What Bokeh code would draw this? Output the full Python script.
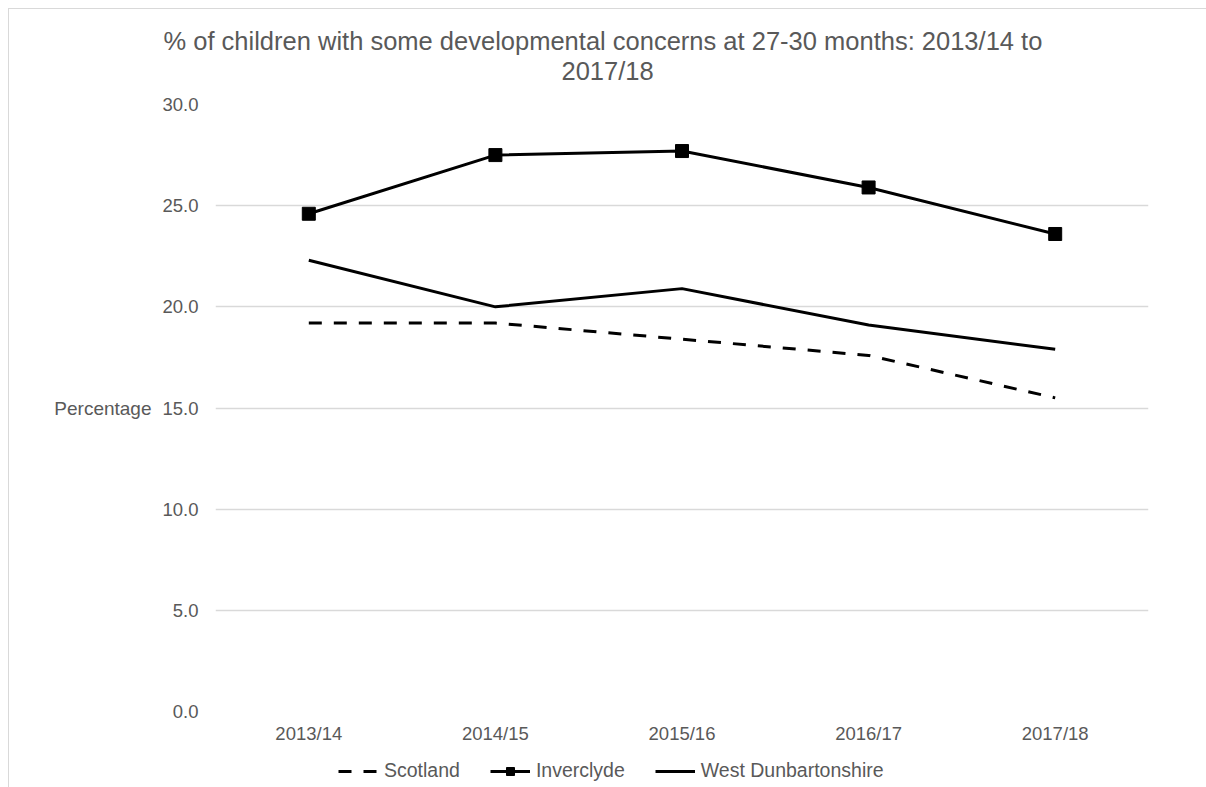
from bokeh.plotting import figure
from bokeh.layouts import column
from bokeh.models import (FactorRange, Range1d, Legend, LegendItem, Title,
                          NumeralTickFormatter, FixedTicker)
from bokeh.embed import file_html
from bokeh.resources import INLINE

# ---- data ----
years = ["2013/14", "2014/15", "2015/16", "2016/17", "2017/18"]
scotland = [19.2, 19.2, 18.4, 17.6, 15.5]
inverclyde = [24.6, 27.5, 27.7, 25.9, 23.6]
west_dunbartonshire = [22.3, 20.0, 20.9, 19.1, 17.9]
y_ticks = [0, 5, 10, 15, 20, 25, 30]
series_names = ["Scotland", "Inverclyde", "West Dunbartonshire"]
title_line1 = "%  of children with some developmental  concerns at 27-30 months: 2013/14 to"
title_line2 = "2017/18"
y_label = "Percentage"

FONT = "Liberation Sans"
GREY = "#595959"
DASH = "13 12"


def draw_series(fig, marker_size):
    a = fig.line(years, scotland, line_color="black", line_width=3, line_dash=DASH)
    b = fig.line(years, inverclyde, line_color="black", line_width=3)
    c = fig.scatter(years, inverclyde, marker="square", size=marker_size, color="black")
    d = fig.line(years, west_dunbartonshire, line_color="black", line_width=3)
    return a, b, c, d


p = figure(x_range=FactorRange(factors=years), y_range=Range1d(0, 30),
           width=1198, height=745, output_backend="svg", toolbar_location=None,
           title=None, min_border_left=206, min_border_right=59,
           min_border_top=95, min_border_bottom=43)
p.outline_line_color = None

# axes
p.yaxis.ticker = FixedTicker(ticks=y_ticks)
p.yaxis.formatter = NumeralTickFormatter(format="0.0")
p.yaxis.axis_label = y_label
p.yaxis.axis_label_orientation = "horizontal"
p.yaxis.axis_label_standoff = 8
p.yaxis.axis_label_text_font_style = "normal"
p.yaxis.axis_label_text_font_size = "19px"
p.yaxis.axis_label_text_font = FONT
p.yaxis.axis_label_text_color = GREY
p.yaxis.major_label_standoff = 11
for ax in (p.xaxis, p.yaxis):
    ax.axis_line_color = None
    ax.major_tick_line_color = None
    ax.minor_tick_line_color = None
    ax.major_label_text_color = GREY
    ax.major_label_text_font = FONT
    ax.major_label_text_font_size = "18.5px"
p.xaxis.major_label_standoff = 5

p.xgrid.grid_line_color = None
p.ygrid.grid_line_color = "#d9d9d9"
p.ygrid.grid_line_width = 1.5

# series
draw_series(p, 13)

# title (two centred lines) + spacer next to the frame
spacer = Title(text=" ", text_font_size="12px", standoff=4)
t2 = Title(text=title_line2, align="left", offset=346, text_font=FONT,
           text_font_size="25.5px", text_font_style="normal", text_color=GREY,
           standoff=0)
t1 = Title(text=title_line1, align="left", offset=-52, text_font=FONT,
           text_font_size="25.5px", text_font_style="normal", text_color=GREY,
           standoff=0)
p.add_layout(spacer, "above")
p.add_layout(t2, "above")
p.add_layout(t1, "above")

# legend strip below the chart (series drawn off-range, only the legend shows)
lg = figure(x_range=FactorRange(factors=years), y_range=Range1d(100, 101),
            width=1198, height=34, output_backend="svg", toolbar_location=None,
            x_axis_type=None, y_axis_type=None, min_border=0)
lg.outline_line_color = None
lg.xgrid.visible = False
lg.ygrid.visible = False
r_sc, r_in, r_ins, r_wd = draw_series(lg, 11)
legend = Legend(items=[LegendItem(label=series_names[0], renderers=[r_sc]),
                       LegendItem(label=series_names[1], renderers=[r_in, r_ins]),
                       LegendItem(label=series_names[2], renderers=[r_wd])],
                orientation="horizontal", location=(123, 6),
                border_line_color=None, background_fill_alpha=0,
                label_text_font=FONT, label_text_font_size="19.5px",
                label_text_color=GREY, glyph_width=40, label_standoff=6,
                spacing=30, padding=0, margin=0)
lg.add_layout(legend)

layout = column(p, lg, spacing=0)
layout.styles = {"margin-left": "8px", "margin-top": "8px",
                 "border-left": "1px solid #d9d9d9", "border-top": "1px solid #d9d9d9"}

open("out.html", "w").write(file_html(layout, INLINE))
